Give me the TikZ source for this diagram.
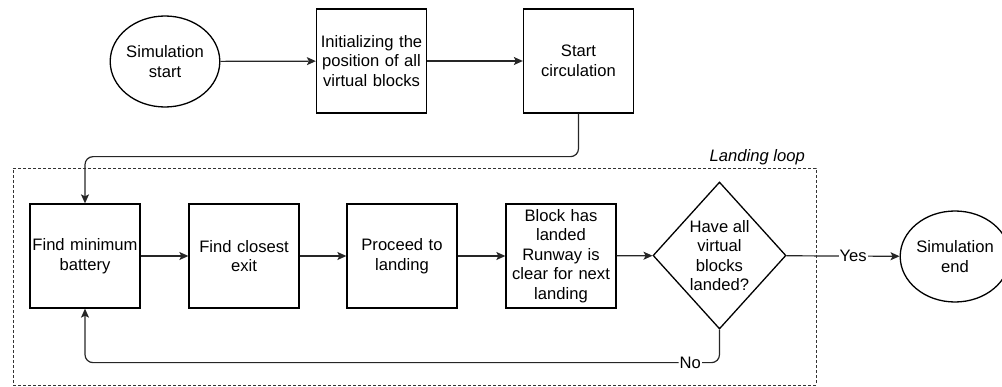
\documentclass[tikz,border=0pt]{standalone}
\usepackage{fontspec}
\setmainfont{Liberation Sans}
\usetikzlibrary{arrows.meta,shapes.geometric}
\begin{document}
\begin{tikzpicture}[x=1pt,y=-1pt,
  font=\fontsize{16.6}{19.6}\selectfont,
  line width=1.3pt,
  box/.style={draw, minimum width=110, minimum height=104, text width=110, align=center, inner sep=0pt},
  term/.style={draw, ellipse, minimum width=108, minimum height=91, align=center, inner sep=0pt},
  dec/.style={draw, diamond, minimum width=133, minimum height=147, align=center, inner sep=0pt, aspect=0.9},
  arr/.style={-{Stealth[length=9pt,width=8pt,inset=2pt]}, line width=1.2pt, draw=black!85},
  lbl/.style={fill=white, inner sep=1pt}]
\useasboundingbox (0,0) rectangle (1002,387);
\node[draw=black!80, line width=0.9pt, dash pattern=on 3pt off 2pt, minimum width=803, minimum height=217, inner sep=0pt] (loop) at (414.5,276.5) {};
\node[anchor=base east, inner sep=0pt, font=\fontsize{16.6}{19}\selectfont\itshape] (looplbl) at ([xshift=-11pt,yshift=6pt]loop.north east) {Landing loop};

\node[term] (ss) at (165,61.5) {Simulation\\start};
\node[box] (init) at (371.5,61) {Initializing the\\position of all\\virtual blocks};
\node[box] (sc) at (578.5,61) {Start\\circulation};

\node[box] (fmb) at (85,256) {Find minimum\\battery};
\node[box] (fce) at (244,256) {Find closest\\exit};
\node[box] (ptl) at (402,256) {Proceed to\\landing};
\node[box] (bhl) at (561,256) {Block has\\landed\\Runway is\\clear for next\\landing};
\node[dec] (dia) at (719.5,255.5) {Have all\\virtual\\blocks\\landed?};
\node[term] (se) at (955,256.5) {Simulation\\end};

\draw[arr] (ss) -- (init);
\draw[arr] (init) -- (sc);
\draw[arr, rounded corners=8pt] (sc.south) -- ++(0,43) -| (fmb.north);
\draw[arr] (fmb) -- (fce);
\draw[arr] (fce) -- (ptl);
\draw[arr] (ptl) -- (bhl);
\draw[arr] (bhl) -- (dia);
\draw[arr] (dia) -- node[lbl, pos=0.59] {Yes} (se);
\draw[arr, rounded corners=8pt] (dia.south) -- ++(0,33) -| node[lbl, pos=0.023] {No} (fmb.south);
\end{tikzpicture}
\end{document}
